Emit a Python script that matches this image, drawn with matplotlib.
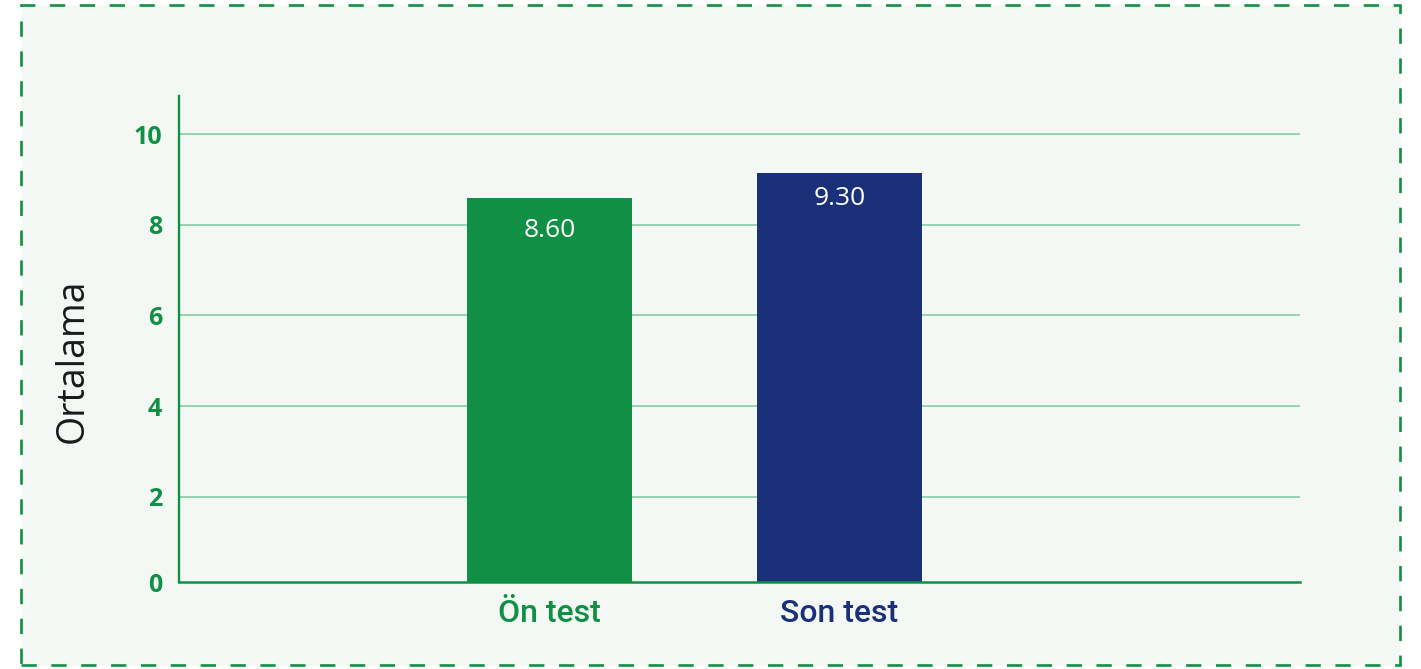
import matplotlib
matplotlib.use("Agg")
import matplotlib.pyplot as plt
from matplotlib.patches import Rectangle

GREEN = "#118f45"
BLUE = "#1a317a"
GRID = "#7cc79a"
BG = "#f4f8f5"

categories = ["Ön test", "Son test"]
bar_heights = [8.60, 9.15]          # drawn height of the bars
value_labels = ["8.60", "9.30"]     # printed values
label_values = [8.60, 9.30]
bar_colors = [GREEN, BLUE]
y_ticks = [0, 2, 4, 6, 8, 10]

plt.rcParams["lines.scale_dashes"] = False
plt.rcParams["font.family"] = ["Open Sans", "DejaVu Sans"]

fig = plt.figure(figsize=(14.21, 6.69), dpi=100)
fig.patch.set_facecolor("white")

# dashed frame round the chart
frame = Rectangle((21 / 1421, 4 / 669), 1379 / 1421, 660 / 669,
                  transform=fig.transFigure, facecolor=BG, edgecolor=GREEN,
                  linewidth=1.9, linestyle=(0, (11, 10.5)), zorder=-5)
fig.patches.append(frame)

ax = fig.add_axes([179 / 1421, 87 / 669, 1121 / 1421, 486 / 669])
ax.set_facecolor("none")

x = list(range(len(categories)))
ax.bar(x, bar_heights, width=0.57, color=bar_colors, zorder=3)

for xi, v, txt in zip(x, label_values, value_labels):
    ax.text(xi, v - 0.72, txt, ha="center", va="center", color="white",
            fontsize=19, zorder=4)

ax.set_xlim(-1.277, 2.589)
ax.set_ylim(0.12, 10.84)
ax.set_yticks([0.12] + y_ticks[1:])
ax.set_yticklabels([str(t) for t in y_ticks], color=GREEN, fontsize=18,
                   fontweight="bold")
ax.set_xticks(x)
ax.set_xticklabels(categories, fontsize=23, fontweight="medium",
                   family=["Roboto", "DejaVu Sans"])
for lbl, c in zip(ax.get_xticklabels(), bar_colors):
    lbl.set_color(c)

ax.tick_params(axis="both", length=0)
ax.tick_params(axis="y", pad=12)
ax.tick_params(axis="x", pad=12)

ax.yaxis.grid(True, color=GRID, linewidth=1.1, zorder=1)
ax.set_axisbelow(True)
ax.get_ygridlines()[0].set_visible(False)

for s in ["top", "right"]:
    ax.spines[s].set_visible(False)
ax.spines["left"].set_color(GREEN)
ax.spines["bottom"].set_color(GREEN)
ax.spines["left"].set_linewidth(1.7)
ax.spines["bottom"].set_linewidth(1.8)
ax.spines["bottom"].set_zorder(5)

ax.set_ylabel("Ortalama", fontsize=27, color="#1a1a1a")
ax.yaxis.set_label_coords(-0.078, 0.455)

fig.savefig("out.png", dpi=100)
